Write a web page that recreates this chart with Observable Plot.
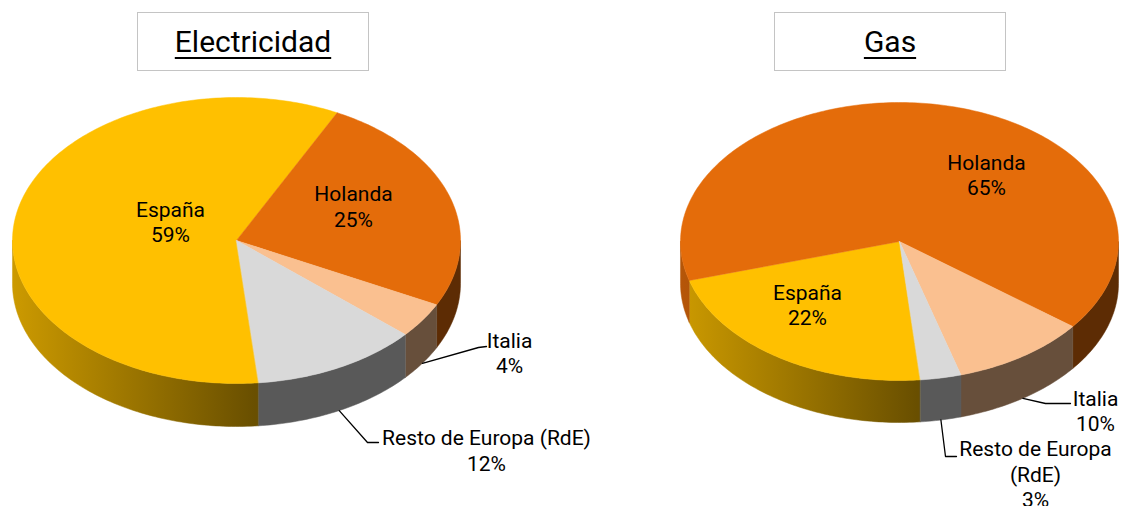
<!DOCTYPE html>
<html><head><meta charset="utf-8">
<script src="https://cdn.jsdelivr.net/npm/d3@7"></script>
<script src="https://cdn.jsdelivr.net/npm/@observablehq/plot@0.6"></script>
<style>
html,body{margin:0;padding:0;background:#fff;overflow:hidden;}
#wrap{position:relative;width:1121px;height:506px;font-family:Roboto,"Open Sans",sans-serif;}
#header{position:relative;height:80px;}
.tbox{position:absolute;top:12px;width:232px;height:59px;box-sizing:border-box;border:1.5px solid #c4c4c4;display:flex;align-items:center;justify-content:center;font-size:30px;color:#000;}
.tbox span{text-decoration:underline;text-underline-offset:5px;text-decoration-thickness:2px;}
#chart svg{display:block;}
</style></head>
<body><div id="wrap"><div id="header"></div><div id="chart"></div></div>
<script>
// ---- data ----
const titles = ["Electricidad", "Gas"];
const categories = ["España", "Holanda", "Italia", "Resto de Europa (RdE)"];
const electricidad = [59, 25, 4, 12];
const gas = [22, 65, 10, 3];
const elecLabels = ["España", "Holanda", "Italia", "Resto de Europa (RdE)"];
const gasLabels = ["España", "Holanda", "Italia", "Resto de Europa\n(RdE)"];
const sliceColors = ["#FFC000", "#E46C0A", "#FAC090", "#D9D9D9"];

// ---- layout ----
const W = 1121, H = 426;
const titleLeft = [137, 774];
const pies = [
  {values: electricidad, labels: elecLabels, cx: 236, cy: 160, rx: 224, ry: 143, depth: 43, start: -84.3,
   labelPos: [[170, 141], [353, 125.5], [509, 272], [486, 369.5]],
   leaders: [null, null, [[478, 267], [486, 266]], [[367, 362], [378, 362]]]},
  {values: gas, labels: gasLabels, cx: 899, cy: 161, rx: 219, ry: 139, depth: 42, start: -84.5,
   labelPos: [[807, 224], [986, 94], [1095, 330], [1035, 393]],
   leaders: [null, null, [[1045, 323], [1070, 323]], [[945, 376], [956, 376]]]}
];

const header = document.getElementById("header");
titles.forEach((t, i) => {
  const d = document.createElement("div");
  d.className = "tbox"; d.style.left = titleLeft[i] + "px";
  const s = document.createElement("span"); s.textContent = t; d.appendChild(s);
  header.appendChild(d);
});

const rad = Math.PI / 180;
const wallRows = [], topRows = [], leaderRows = [], labelRows = [], gradients = [];
pies.forEach((p, pi) => {
  const total = d3.sum(p.values);
  const px = t => p.cx + p.rx * Math.cos(t * rad);
  const py = t => p.cy - p.ry * Math.sin(t * rad);
  const shade = (col, f) => {
    const c = d3.rgb(col);
    return d3.rgb(c.r * f, c.g * f, c.b * f).formatHex();
  };
  let cum = 0;
  p.values.forEach((v, i) => {
    const s = p.start - 360 * cum / total;
    const e = s - 360 * v / total;
    cum += v;
    const col = sliceColors[i];
    const gid = `g${pi}-${i}`;
    gradients.push({id: gid, x1: p.cx - p.rx, x2: p.cx - p.rx + 0.54 * 2 * p.rx,
                    c1: shade(col, 0.8), c2: shade(col, 0.41)});
    // walls (front half only)
    for (let k = -2; k <= 1; k++) {
      const lo = Math.max(e, -180 + 360 * k), hi = Math.min(s, 360 * k);
      if (hi <= lo) continue;
      const n = Math.max(2, Math.ceil((hi - lo) / 1));
      const id = `w${pi}-${i}-${k}`;
      const fill = `url(#${gid})`;
      for (let j = 0; j <= n; j++) {
        const t = lo + (hi - lo) * j / n;
        wallRows.push({id, x: px(t), y: py(t), fill});
      }
      for (let j = n; j >= 0; j--) {
        const t = lo + (hi - lo) * j / n;
        wallRows.push({id, x: px(t), y: py(t) + p.depth, fill});
      }
    }
    // top face
    const id = `t${pi}-${i}`;
    topRows.push({id, x: p.cx, y: p.cy, fill: col});
    const n = Math.max(2, Math.ceil((s - e) / 1));
    for (let j = 0; j <= n; j++) {
      const t = s - (s - e) * j / n;
      topRows.push({id, x: px(t), y: py(t), fill: col});
    }
    // labels
    labelRows.push({x: p.labelPos[i][0], y: p.labelPos[i][1], text: `${p.labels[i]}\n${v}%`});
    // leaders
    if (p.leaders[i]) {
      const m = (s + e) / 2;
      const lid = `l${pi}-${i}`;
      leaderRows.push({id: lid, x: px(m), y: py(m) + p.depth});
      p.leaders[i].forEach(([x, y]) => leaderRows.push({id: lid, x, y}));
    }
  });
});

const defsMark = (index, scales) => {
  const defs = d3.create("svg:defs");
  gradients.forEach(g => {
    const lg = defs.append("linearGradient").attr("id", g.id)
      .attr("gradientUnits", "userSpaceOnUse")
      .attr("x1", scales.x(g.x1)).attr("x2", scales.x(g.x2))
      .attr("y1", 0).attr("y2", 0);
    lg.append("stop").attr("offset", 0).attr("stop-color", g.c1);
    lg.append("stop").attr("offset", 1).attr("stop-color", g.c2);
  });
  return defs.node();
};

const chart = Plot.plot({
  width: W, height: H, margin: 0,
  x: {domain: [0, W], range: [0, W], axis: null},
  y: {domain: [0, H], range: [0, H], axis: null},
  color: {type: "identity"},
  style: {fontFamily: "Roboto, 'Open Sans', sans-serif", background: "#fff"},
  marks: [
    defsMark,
    Plot.line(wallRows, {x: "x", y: "y", z: "id", fill: "fill", stroke: "fill", strokeWidth: 0.5, curve: "linear-closed"}),
    Plot.line(topRows, {x: "x", y: "y", z: "id", fill: "fill", stroke: "fill", strokeWidth: 0.5, curve: "linear-closed"}),
    Plot.line(leaderRows, {x: "x", y: "y", z: "id", stroke: "#000", strokeWidth: 1.3}),
    Plot.text(labelRows, {x: "x", y: "y", text: "text", fontSize: 21, lineHeight: 1.2, fill: "#000"})
  ]
});
document.getElementById("chart").appendChild(chart);
</script>
</body></html>
